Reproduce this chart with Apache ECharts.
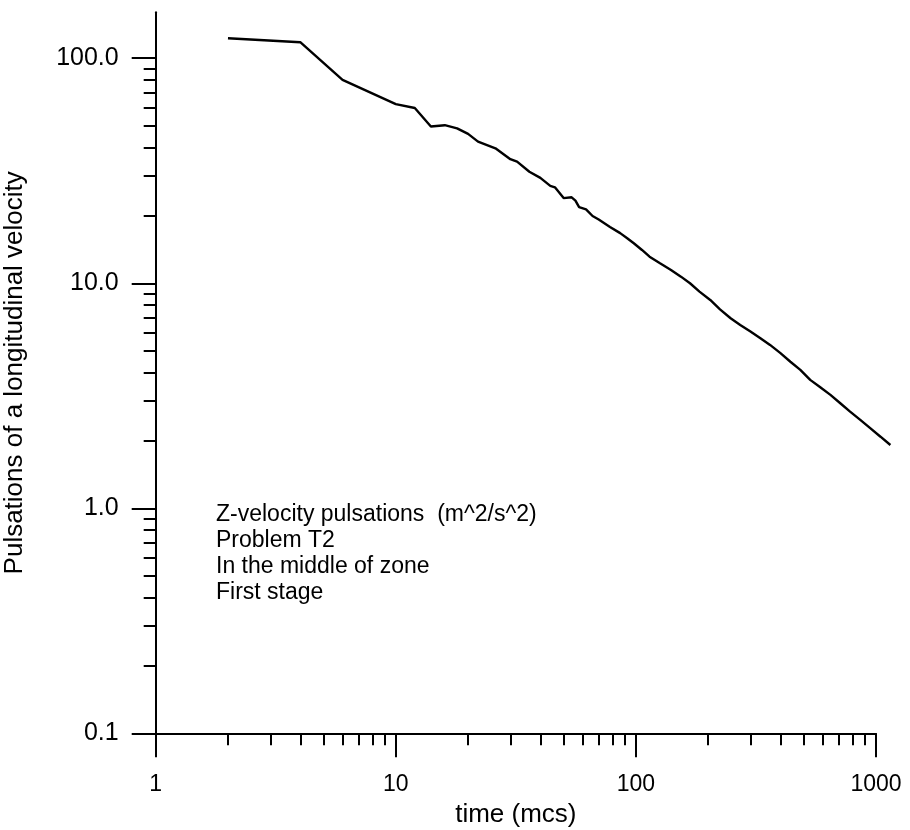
<!DOCTYPE html>
<html>
<head>
<meta charset="utf-8">
<script src="https://cdn.jsdelivr.net/npm/echarts@6/dist/echarts.min.js"></script>
<style>html,body{margin:0;padding:0;background:#fff;}#c{width:910px;height:830px;}</style>
</head>
<body>
<div id="c"></div>
<script>
const time = [2,4,6,10,12,14,16,18,20,22,26,30,32,36,40,44,46,50,54,56,58,62,66,70,78,86,92,98,106,114,126,140,154,168,184,204,224,248,272,300,330,362,400,440,484,532,586,646,710,780,860,946,1044,1148];
const pulsation = [122.7,117.8,80.1,62.5,60.1,49.7,50.4,48.8,46.1,42.6,39.8,35.6,34.7,31.3,29.4,27.1,26.7,23.9,24.1,23.3,21.8,21.3,19.9,19.2,17.8,16.7,15.85,15.06,14.06,13.13,12.27,11.46,10.7,10.0,9.18,8.43,7.66,6.99,6.53,6.1,5.7,5.32,4.89,4.48,4.12,3.72,3.45,3.19,2.93,2.69,2.47,2.27,2.08,1.91];
const xMajorTicks = [1,10,100,1000];
const xMinorTicks = [2,3,4,5,6,7,8,9,20,30,40,50,60,70,80,90,200,300,400,500,600,700,800,900];
const yMajorTicks = [0.1,1,10,100];
const yMinorTicks = [0.2,0.3,0.4,0.5,0.6,0.7,0.8,0.9,2,3,4,5,6,7,8,9,20,30,40,50,60,70,80,90];
const annotation = ['Z-velocity pulsations  (m^2/s^2)','Problem T2','In the middle of zone','First stage'];
const xName = 'time (mcs)';
const yName = 'Pulsations of a longitudinal velocity';

(function () {
const X_MIN = 1, X_MAX = 1000, X_DATA_MAX = 1150;
const Y_MIN = 0.1, Y_MAX = 160;
const FONT = 'Liberation Sans';
const black = '#000';
const gLeft = 155.7, gTop = 12.3, plotW = 720.3, plotH = 721;
const dataW = plotW * Math.log10(X_DATA_MAX / X_MIN) / Math.log10(X_MAX / X_MIN);

const chart = echarts.init(document.getElementById('c'), null, {renderer:'canvas'});
const lineW = {color: black, width: 2};
chart.setOption({
  animation: false,
  backgroundColor: '#fff',
  grid: [
    {left: gLeft, top: gTop, width: plotW, height: plotH, containLabel: false, outerBoundsMode: 'none'},
    {left: gLeft, top: gTop, width: dataW, height: plotH, containLabel: false, outerBoundsMode: 'none'}
  ],
  xAxis: [
    {type:'log', logBase:10, min:X_MIN, max:X_MAX, gridIndex:0, position:'bottom',
     axisLine:{show:true, onZero:false, lineStyle:lineW},
     axisTick:{show:true, customValues:xMajorTicks, length:24, inside:false, lineStyle:lineW},
     axisLabel:{show:true, customValues:xMajorTicks, margin:40, fontSize:23, color:black, fontFamily:FONT,
       formatter: v => String(Math.round(v))},
     splitLine:{show:false}, minorTick:{show:false},
     name:xName, nameLocation:'middle', nameGap:69,
     nameTextStyle:{fontSize:26, color:black, fontFamily:FONT}},
    {type:'log', logBase:10, min:X_MIN, max:X_MAX, gridIndex:0, position:'bottom',
     axisLine:{show:false, onZero:false},
     axisTick:{show:true, customValues:xMinorTicks, length:12, inside:false, lineStyle:lineW},
     axisLabel:{show:false}, splitLine:{show:false}},
    {type:'log', logBase:10, min:X_MIN, max:X_DATA_MAX, gridIndex:1, show:false}
  ],
  yAxis: [
    {type:'log', logBase:10, min:Y_MIN, max:Y_MAX, gridIndex:0, position:'left',
     axisLine:{show:true, onZero:false, lineStyle:lineW},
     axisTick:{show:true, customValues:yMajorTicks, length:24, inside:false, lineStyle:lineW},
     axisLabel:{show:true, customValues:yMajorTicks, margin:37, fontSize:25, color:black, fontFamily:FONT,
       formatter: v => Number(v).toFixed(1)},
     splitLine:{show:false},
     name:yName, nameLocation:'middle', nameGap:128, nameRotate:90,
     nameTextStyle:{fontSize:26, color:black, fontFamily:FONT}},
    {type:'log', logBase:10, min:Y_MIN, max:Y_MAX, gridIndex:0, position:'left',
     axisLine:{show:false, onZero:false},
     axisTick:{show:true, customValues:yMinorTicks, length:12, inside:false, lineStyle:lineW},
     axisLabel:{show:false}, splitLine:{show:false}},
    {type:'log', logBase:10, min:Y_MIN, max:Y_MAX, gridIndex:1, show:false}
  ],
  graphic: [{
    type:'text', left:216, top:502, silent:true,
    style:{text: annotation.join('\n'), font: '23px "Liberation Sans"', fill: black, lineHeight: 26}
  }],
  series: [{
    type:'line', xAxisIndex:2, yAxisIndex:2,
    data: time.map((t,i) => [t, pulsation[i]]),
    showSymbol:false, symbol:'none', clip:false,
    lineStyle:{color:black, width:2.4}
  }]
});
})();
</script>
</body>
</html>
